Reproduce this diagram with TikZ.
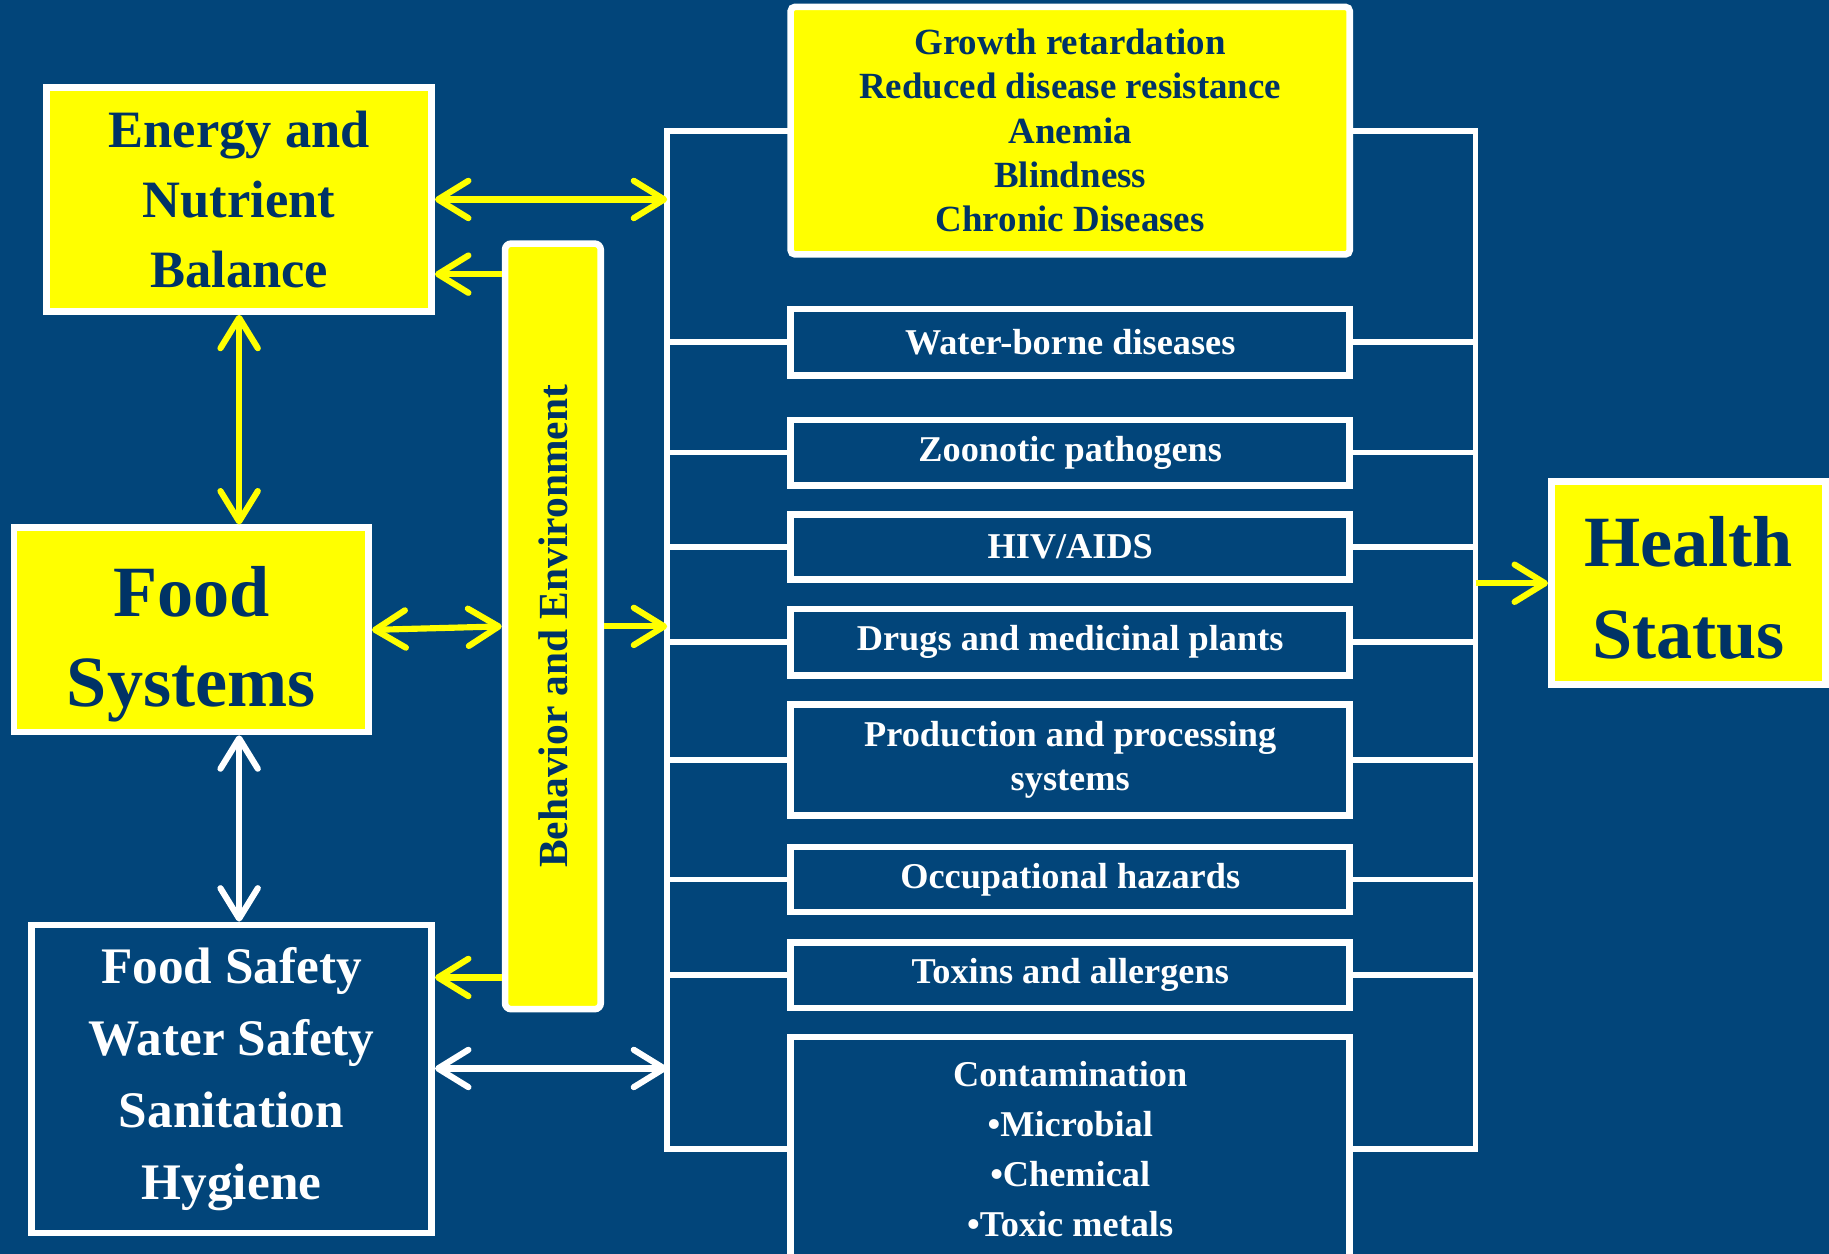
\documentclass[tikz,border=0pt]{standalone}
\usepackage{fontspec}
\setmainfont{Liberation Serif}
\usetikzlibrary{arrows.meta}
\definecolor{slideblue}{RGB}{2,69,122}
\definecolor{navy}{RGB}{0,51,102}
\definecolor{lemon}{RGB}{255,255,0}
\newcommand{\fs}[2]{\fontsize{#1}{#2}\selectfont\bfseries}

\begin{document}
\begin{tikzpicture}[x=0.01cm,y=-0.01cm,
    >={Straight Barb[length=2.6mm,width=3.2mm,round]},
    ybox/.style={draw=white,line width=1.6pt,fill=lemon,text=navy,align=center,inner sep=0pt},
    bbox/.style={draw=white,line width=1.6pt,fill=slideblue,text=white,align=center,inner sep=0pt},
    mid/.style={bbox,minimum width=4.79cm,font=\fs{8.85}{10.8}},
    wline/.style={white,line width=1.4pt,line cap=rect},
    yarr/.style={draw=lemon,line width=1.5pt},
    warr/.style={draw=white,line width=1.5pt}]
     \useasboundingbox (0,0) rectangle (1568,1075);
     \fill[slideblue] (0,0) rectangle (1568,1075);
     % left column
     \node[ybox,minimum width=3.3cm,minimum height=1.92cm,font=\fs{12.8}{17}] (energy) at (205,171) {Energy and\\Nutrient\\Balance};
     \node[ybox,minimum width=3.04cm,minimum height=1.75cm] (food) at (164,540) {};
     \node[text=navy,align=center,font=\fs{17.6}{21.9}] (foodtxt) at ([yshift=-1.2mm]food.center) {Food\\Systems};
     \node[bbox,minimum width=3.43cm,minimum height=2.64cm,font=\fs{12.5}{17.6}] (fsafe) at (198.5,925) {Food Safety\\Water Safety\\Sanitation\\Hygiene};
     \node[ybox,rounded corners=1.5pt,minimum width=0.82cm,minimum height=6.56cm] (behav) at (474,537) {};
     \node[rotate=90,text=navy,font=\fs{10.1}{12}] (behavtxt) at (behav) {Behavior and Environment};
     % middle column
     \node[ybox,rounded corners=1pt,minimum width=4.79cm,minimum height=2.12cm,font=\fs{9}{10.8}] (growth) at (917.5,112) {Growth retardation\\Reduced disease resistance\\Anemia\\Blindness\\Chronic Diseases};
     \node[mid,minimum height=0.57cm] (water) at (917.5,293.5) {Water-borne diseases};
     \node[mid,minimum height=0.56cm] (zoon) at (917.5,388) {Zoonotic pathogens};
     \node[mid,minimum height=0.56cm] (hiv) at (917.5,469) {HIV/AIDS};
     \node[mid,minimum height=0.57cm] (drugs) at (917.5,550.5) {Drugs and medicinal plants};
     \node[mid,minimum height=0.95cm] (prod) at (917.5,651.5) {Production and processing\\systems};
     \node[mid,minimum height=0.56cm] (occ) at (917.5,754) {Occupational hazards};
     \node[mid,minimum height=0.56cm] (tox) at (917.5,836) {Toxins and allergens};
     \node[mid,minimum height=1.92cm,font=\fs{8.85}{12.2}] (contam) at (917.5,985) {Contamination\\•Microbial\\•Chemical\\•Toxic metals};
     % right
     \node[ybox,minimum width=2.35cm,minimum height=1.74cm] (health) at (1447.5,500) {};
     \node[text=navy,align=center,font=\fs{17.6}{22.5}] (healthtxt) at ([yshift=-0.4mm]health.center) {Health\\Status};
     \coordinate (lbar) at (572,0);
     \coordinate (rbar) at (1265,0);
     % brackets
     \foreach \n in {growth,water,zoon,hiv,drugs,prod,occ,tox,contam} {
      \draw[wline] (\n.west) -- (\n.west -| lbar);
      \draw[wline] (\n.east) -- (\n.east -| rbar);
     }
     \draw[wline] (growth.west -| lbar) -- (contam.west -| lbar);
     \draw[wline] (growth.east -| rbar) -- (contam.east -| rbar);
     % arrows
     \path ([yshift=-2.9mm]behav.north west) coordinate (b1)
           ([yshift=3mm]behav.south west) coordinate (b2)
           ([yshift=0.9mm]fsafe.east) coordinate (f1);
     \draw[yarr,<->] (energy.east) -- (energy.east -| lbar);
     \draw[yarr,->] (b1) -- (b1 -| energy.east);
     \draw[yarr,<->] (energy.south) -- (energy.south |- food.north);
     \draw[yarr,<->] (food.east) -- (behav.west);
     \draw[yarr,->] (behav.east) -- (behav.east -| lbar);
     \draw[warr,<->] (energy.south |- food.south) -- (energy.south |- fsafe.north);
     \draw[yarr,->] (b2) -- (b2 -| fsafe.east);
     \draw[warr,<->] (f1) -- (f1 -| lbar);
     \draw[yarr,->] (health.west -| rbar) -- (health.west);
    \end{tikzpicture}
\end{document}
